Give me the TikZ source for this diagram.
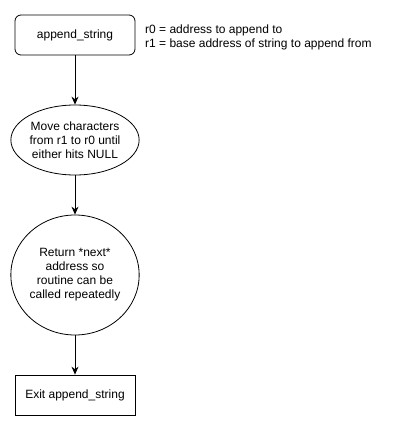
\documentclass[tikz,border=0pt]{standalone}
\usepackage{fontspec}
\setmainfont{Liberation Sans}
\usetikzlibrary{arrows.meta,positioning,shapes.geometric}

\begin{document}
\begin{tikzpicture}[
  x=1pt, y=-1pt,
  box/.style={draw, line width=0.8pt, minimum width=120pt, minimum height=40pt, align=center, inner sep=2pt, font=\fontsize{12}{14}\selectfont},
  oval/.style={draw, ellipse, line width=0.8pt, inner sep=0pt, align=center, font=\fontsize{12}{14}\selectfont},
  arr/.style={-{Stealth[length=8pt,width=7pt]}, line width=0.8pt},
  note/.style={align=left, inner sep=0pt, font=\fontsize{12}{14}\selectfont}
]
  \useasboundingbox (0,0) rectangle (401,431);

  % Main flow (left column)
  \node[box, rounded corners=6pt] (start) at (75,35) {append\_string};
  \node[oval, minimum width=120pt, minimum height=70pt] (move) at (75,140) {Move characters\\from r1 to r0 until\\either hits NULL};
  \node[oval, minimum width=120pt, minimum height=120pt] (ret) at (75,275) {Return *next*\\address so\\routine can be\\called repeatedly};
  \node[box] (exit) at (75,395) {Exit append\_string};

  % Register notes
  \node[note, anchor=west] (regs) at (145,37) {r0 = address to append to\\r1 = base address of string to append from};

  % Connectors
  \draw[arr] (start) -- (move);
  \draw[arr] (move) -- (ret);
  \draw[arr] (ret) -- (exit);
\end{tikzpicture}
\end{document}
